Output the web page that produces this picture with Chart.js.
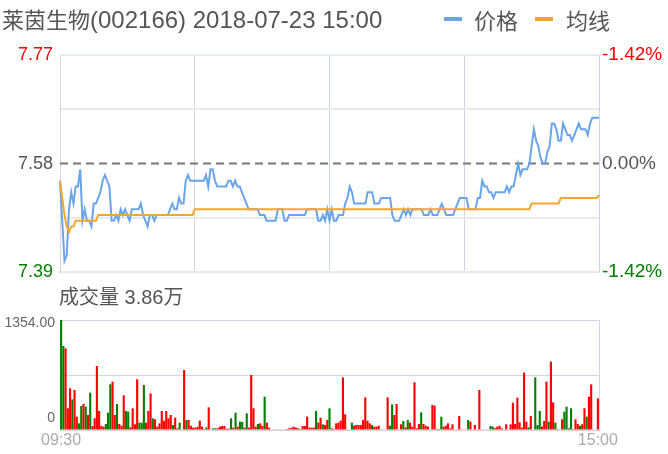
<!DOCTYPE html>
<html>
<head>
<meta charset="utf-8">
<script src="https://cdn.jsdelivr.net/npm/chart.js@4/dist/chart.umd.min.js"></script>
<style>
  body { margin: 0; background: #fff; }
  #wrap { position: relative; width: 668px; height: 454px; overflow: hidden;
          font-family: "Liberation Sans", Arial, "Noto Sans CJK SC", sans-serif; color: #555; }
  canvas { position: absolute; left: 0; }
  .t { position: absolute; white-space: nowrap; }
  .cjk { font-family: "Noto Sans CJK SC", sans-serif; }
  .sw { position: absolute; height: 4px; width: 18px; }
</style>
</head>
<body>
<div id="wrap">
  <canvas id="price" width="668" height="290" style="top:0"></canvas>
  <canvas id="vol" width="668" height="164" style="top:290px"></canvas>

  <div class="t" style="left:2px;top:3px;font-size:24px;line-height:30px;"><span class="cjk" style="font-size:22px;line-height:30px;">莱茵生物</span>(002166) 2018-07-23 15:00</div>
  <div class="sw" style="left:444px;top:17px;background:#6aa5ea;"></div>
  <div class="t cjk" style="left:474px;top:8px;font-size:22px;line-height:22px;">价格</div>
  <div class="sw" style="left:535px;top:17px;background:#f5a631;"></div>
  <div class="t cjk" style="left:566px;top:8px;font-size:22px;line-height:22px;">均线</div>
  <div class="t" style="left:59px;top:285px;font-size:20px;line-height:24px;">成交量 3.86万</div>
</div>

<script>
// previous close and axis ticks
const prevClose = 7.58;
const priceTicks = [7.39, 7.485, 7.58, 7.675, 7.77];
const leftLabels = ['7.39', '', '7.58', '', '7.77'];
const rightLabels = ['-1.42%', '', '0.00%', '', '-1.42%'];
const volMax = 1354;

// minute price (09:30 - 15:00)
const price = [
  7.55, 7.48, 7.41, 7.42, 7.50, 7.53, 7.51, 7.54, 7.54, 7.57,
  7.48, 7.50, 7.48, 7.48, 7.47, 7.51, 7.51, 7.52, 7.53, 7.55,
  7.56, 7.55, 7.54, 7.48, 7.48, 7.49, 7.48, 7.50, 7.49, 7.50,
  7.49, 7.48, 7.50, 7.50, 7.50, 7.50, 7.51, 7.49, 7.48, 7.47,
  7.49, 7.49, 7.48, 7.49, 7.49, 7.49, 7.49, 7.49, 7.49, 7.50,
  7.51, 7.50, 7.50, 7.52, 7.51, 7.51, 7.55, 7.56, 7.55, 7.55,
  7.55, 7.55, 7.55, 7.55, 7.55, 7.56, 7.54, 7.57, 7.57, 7.55,
  7.54, 7.54, 7.54, 7.54, 7.54, 7.55, 7.55, 7.54, 7.55, 7.54,
  7.54, 7.53, 7.52, 7.51, 7.50, 7.50, 7.50, 7.50, 7.50, 7.49,
  7.49, 7.49, 7.48, 7.48, 7.48, 7.48, 7.48, 7.50, 7.50, 7.50,
  7.48, 7.48, 7.49, 7.49, 7.49, 7.49, 7.49, 7.49, 7.49, 7.49,
  7.50, 7.50, 7.50, 7.50, 7.50, 7.48, 7.48, 7.49, 7.48, 7.50,
  7.48, 7.50, 7.48, 7.48, 7.49, 7.49, 7.49, 7.51, 7.52, 7.54,
  7.53, 7.51, 7.51, 7.51, 7.51, 7.51, 7.51, 7.53, 7.53, 7.53,
  7.51, 7.51, 7.51, 7.52, 7.52, 7.52, 7.52, 7.52, 7.49, 7.48,
  7.48, 7.48, 7.49, 7.50, 7.49, 7.50, 7.49, 7.50, 7.50, 7.50,
  7.50, 7.50, 7.49, 7.49, 7.49, 7.50, 7.49, 7.49, 7.49, 7.50,
  7.51, 7.50, 7.49, 7.49, 7.49, 7.49, 7.50, 7.51, 7.52, 7.52,
  7.52, 7.52, 7.50, 7.50, 7.50, 7.50, 7.52, 7.52, 7.55, 7.54,
  7.54, 7.53, 7.53, 7.52, 7.53, 7.53, 7.53, 7.53, 7.53, 7.54,
  7.53, 7.54, 7.54, 7.56, 7.58, 7.56, 7.57, 7.57, 7.57, 7.58,
  7.61, 7.64, 7.62, 7.61, 7.59, 7.58, 7.58, 7.60, 7.61, 7.65,
  7.65, 7.64, 7.62, 7.62, 7.65, 7.64, 7.63, 7.63, 7.62, 7.63,
  7.64, 7.65, 7.64, 7.64, 7.64, 7.63, 7.65, 7.66, 7.66, 7.66,
  7.66
];

// average price line
const avgPrice = [
  7.55, 7.52, 7.49, 7.47, 7.46, 7.47, 7.47, 7.48, 7.48, 7.48,
  7.48, 7.48, 7.48, 7.48, 7.48, 7.48, 7.48, 7.49, 7.49, 7.49,
  7.49, 7.49, 7.49, 7.49, 7.49, 7.49, 7.49, 7.49, 7.49, 7.49,
  7.49, 7.49, 7.49, 7.49, 7.49, 7.49, 7.49, 7.49, 7.49, 7.49,
  7.49, 7.49, 7.49, 7.49, 7.49, 7.49, 7.49, 7.49, 7.49, 7.49,
  7.49, 7.49, 7.49, 7.49, 7.49, 7.49, 7.49, 7.49, 7.49, 7.49,
  7.50, 7.50, 7.50, 7.50, 7.50, 7.50, 7.50, 7.50, 7.50, 7.50,
  7.50, 7.50, 7.50, 7.50, 7.50, 7.50, 7.50, 7.50, 7.50, 7.50,
  7.50, 7.50, 7.50, 7.50, 7.50, 7.50, 7.50, 7.50, 7.50, 7.50,
  7.50, 7.50, 7.50, 7.50, 7.50, 7.50, 7.50, 7.50, 7.50, 7.50,
  7.50, 7.50, 7.50, 7.50, 7.50, 7.50, 7.50, 7.50, 7.50, 7.50,
  7.50, 7.50, 7.50, 7.50, 7.50, 7.50, 7.50, 7.50, 7.50, 7.50,
  7.50, 7.50, 7.50, 7.50, 7.50, 7.50, 7.50, 7.50, 7.50, 7.50,
  7.50, 7.50, 7.50, 7.50, 7.50, 7.50, 7.50, 7.50, 7.50, 7.50,
  7.50, 7.50, 7.50, 7.50, 7.50, 7.50, 7.50, 7.50, 7.50, 7.50,
  7.50, 7.50, 7.50, 7.50, 7.50, 7.50, 7.50, 7.50, 7.50, 7.50,
  7.50, 7.50, 7.50, 7.50, 7.50, 7.50, 7.50, 7.50, 7.50, 7.50,
  7.50, 7.50, 7.50, 7.50, 7.50, 7.50, 7.50, 7.50, 7.50, 7.50,
  7.50, 7.50, 7.50, 7.50, 7.50, 7.50, 7.50, 7.50, 7.50, 7.50,
  7.50, 7.50, 7.50, 7.50, 7.50, 7.50, 7.50, 7.50, 7.50, 7.50,
  7.50, 7.50, 7.50, 7.50, 7.50, 7.50, 7.50, 7.50, 7.50, 7.50,
  7.51, 7.51, 7.51, 7.51, 7.51, 7.51, 7.51, 7.51, 7.51, 7.51,
  7.51, 7.51, 7.51, 7.52, 7.52, 7.52, 7.52, 7.52, 7.52, 7.52,
  7.52, 7.52, 7.52, 7.52, 7.52, 7.52, 7.52, 7.52, 7.52, 7.52,
  7.525
];

// minute volume (手)
const volume = [
  1354, 1034, 1005, 267, 513, 377, 492, 164, 82, 295,
  320, 287, 185, 460, 50, 144, 788, 234, 50, 41,
  74, 213, 562, 595, 185, 320, 74, 53, 427, 234,
  226, 33, 267, 70, 624, 90, 90, 554, 90, 234,
  451, 144, 131, 41, 82, 234, 115, 234, 144, 185,
  62, 152, 21, 90, 8, 739, 123, 123, 53, 29,
  29, 41, 115, 41, 12, 33, 279, 4, 21, 21,
  21, 41, 50, 50, 16, 16, 144, 29, 213, 41,
  103, 99, 29, 205, 29, 677, 267, 41, 74, 82,
  50, 410, 90, 29, 8, 4, 4, 4, 8, 8,
  4, 12, 21, 29, 41, 29, 21, 12, 50, 50,
  164, 29, 29, 29, 234, 90, 152, 70, 62, 123,
  267, 20, 12, 82, 90, 115, 648, 193, 8, 8,
  90, 53, 62, 62, 62, 123, 402, 115, 82, 62,
  41, 41, 53, 4, 8, 4, 402, 53, 316, 185,
  320, 4, 70, 111, 33, 123, 90, 41, 587, 21,
  74, 217, 74, 53, 41, 8, 308, 300, 12, 12,
  164, 41, 53, 82, 21, 70, 8, 8, 172, 8,
  8, 4, 123, 103, 8, 62, 8, 492, 8, 4,
  4, 4, 50, 41, 21, 41, 53, 21, 8, 70,
  8, 70, 336, 74, 398, 95, 29, 706, 103, 33,
  172, 8, 648, 62, 234, 41, 111, 595, 103, 841,
  340, 90, 12, 8, 131, 226, 287, 21, 267, 12,
  131, 74, 53, 70, 267, 164, 410, 562, 8, 8,
  390
];

// 1 = up (red), -1 = down (green)
const volDir = [
  -1, -1, 1, 1, 1, -1, 1, 1, -1, -1,
  1, -1, 1, -1, 1, 1, 1, 1, 1, 1,
  -1, -1, -1, 1, 1, -1, 1, 1, 1, -1,
  -1, 1, 1, 1, 1, -1, -1, -1, 1, 1,
  1, -1, 1, 1, 1, 1, 1, 1, 1, 1,
  -1, 1, 1, -1, 1, 1, -1, 1, 1, 1,
  1, 1, 1, 1, 1, -1, 1, 1, -1, -1,
  1, 1, 1, 1, 1, 1, -1, 1, -1, 1,
  -1, -1, 1, -1, 1, 1, 1, 1, -1, 1,
  1, -1, 1, 1, 1, 1, 1, 1, 1, 1,
  1, 1, 1, 1, 1, 1, 1, 1, 1, 1,
  1, 1, 1, 1, -1, 1, 1, -1, 1, 1,
  -1, 1, 1, 1, 1, 1, 1, 1, 1, 1,
  -1, 1, 1, 1, 1, 1, 1, 1, 1, -1,
  1, 1, 1, 1, 1, 1, 1, -1, -1, 1,
  1, 1, 1, -1, 1, -1, 1, 1, 1, 1,
  1, -1, 1, 1, 1, 1, 1, 1, -1, 1,
  -1, 1, 1, 1, 1, 1, 1, 1, 1, 1,
  1, 1, -1, 1, 1, 1, 1, 1, 1, 1,
  1, 1, -1, -1, 1, 1, 1, 1, 1, 1,
  1, 1, 1, 1, 1, 1, 1, 1, 1, -1,
  1, 1, -1, -1, -1, 1, 1, 1, -1, 1,
  1, -1, 1, 1, 1, -1, -1, 1, -1, 1,
  1, 1, -1, 1, 1, -1, 1, 1, 1, 1,
  1
];

// trading minutes: 09:30-11:30, 13:01-15:00
function hm(t) {
  return String(Math.floor(t / 60)).padStart(2, '0') + ':' + String(t % 60).padStart(2, '0');
}
const times = [];
for (let t = 570; t <= 690; t++) times.push(hm(t));
for (let t = 781; t <= 900; t++) times.push(hm(t));

Chart.defaults.font.family = '"Liberation Sans", Arial, sans-serif';

const GRID = '#e6e9ee';
const VGRID = '#cfd6e1';

// dashed line at previous close
const refLine = {
  id: 'refLine',
  beforeDatasetsDraw(chart) {
    const { ctx, chartArea } = chart;
    const y = chart.scales.y.getPixelForValue(prevClose);
    ctx.save();
    ctx.setLineDash([8, 5]);
    ctx.strokeStyle = '#777';
    ctx.lineWidth = 2;
    ctx.beginPath();
    ctx.moveTo(chartArea.left, y);
    ctx.lineTo(chartArea.right, y);
    ctx.stroke();
    ctx.restore();
  }
};

new Chart(document.getElementById('price'), {
  type: 'line',
  data: {
    labels: times,
    datasets: [
      { label: '均线', data: avgPrice, borderColor: '#f5a631', borderWidth: 2, pointRadius: 0, tension: 0 },
      { label: '价格', data: price, borderColor: '#6aa5ea', borderWidth: 2, pointRadius: 0, tension: 0 }
    ]
  },
  options: {
    responsive: false,
    animation: false,
    events: [],
    layout: { padding: { top: 55, bottom: 16, left: 0, right: 0 } },
    plugins: { legend: { display: false }, tooltip: { enabled: false } },
    scales: {
      x: {
        afterFit: s => { s.height = 0; },
        ticks: { display: false, autoSkip: false },
        grid: { drawTicks: false, color: c => (c.index % 60 === 0 ? VGRID : 'rgba(0,0,0,0)') },
        border: { color: GRID, width: 2 }
      },
      y: {
        min: priceTicks[0],
        max: priceTicks[priceTicks.length - 1],
        afterBuildTicks: s => { s.ticks = priceTicks.map(v => ({ value: v })); },
        afterFit: s => { s.width = 60; },
        ticks: {
          padding: 7,
          font: { size: 18 },
          color: c => ['#008000', '#555', '#555', '#555', '#ff0000'][c.index],
          callback: (v, i) => leftLabels[i]
        },
        grid: { drawTicks: false, lineWidth: 2, color: c => (c.index === 2 ? 'rgba(0,0,0,0)' : GRID) },
        border: { color: VGRID }
      },
      y1: {
        position: 'right',
        min: priceTicks[0],
        max: priceTicks[priceTicks.length - 1],
        afterBuildTicks: s => { s.ticks = priceTicks.map(v => ({ value: v })); },
        afterFit: s => { s.width = 69; },
        ticks: {
          padding: 3,
          font: { size: 19 },
          color: c => ['#008000', '#555', '#555', '#555', '#ff0000'][c.index],
          callback: (v, i) => rightLabels[i]
        },
        grid: { display: false, drawTicks: false },
        border: { color: VGRID }
      }
    }
  },
  plugins: [refLine]
});

// volume axis labels
const volLabels = {
  id: 'volLabels',
  afterDraw(chart) {
    const { ctx } = chart;
    const y = chart.scales.y;
    ctx.save();
    ctx.font = '14px "Liberation Sans", Arial, sans-serif';
    ctx.fillStyle = '#666';
    ctx.textAlign = 'right';
    ctx.textBaseline = 'middle';
    ctx.fillText(volMax.toFixed(2), y.right - 5, y.getPixelForValue(volMax) + 3);
    ctx.fillText('0', y.right - 5, y.getPixelForValue(0) - 12);
    ctx.restore();
  }
};

new Chart(document.getElementById('vol'), {
  type: 'bar',
  data: {
    labels: times,
    datasets: [{
      label: '成交量',
      data: volume,
      backgroundColor: volDir.map(d => (d > 0 ? '#ff0000' : '#008000')),
      barPercentage: 0.95,
      categoryPercentage: 1
    }]
  },
  options: {
    responsive: false,
    animation: false,
    events: [],
    layout: { padding: { top: 30, left: 0, right: 0, bottom: 0 } },
    plugins: { legend: { display: false }, tooltip: { enabled: false } },
    scales: {
      x: {
        afterFit: s => { s.height = 24; },
        grid: { display: false, drawTicks: false },
        border: { color: VGRID },
        ticks: {
          autoSkip: false,
          maxRotation: 0,
          padding: 1,
          font: { size: 16 },
          color: '#aaa',
          callback: (v, i) => (i === 0 || i === times.length - 1 ? times[i] : '')
        }
      },
      y: {
        min: 0,
        max: volMax,
        afterBuildTicks: s => { s.ticks = [0, volMax / 2, volMax].map(v => ({ value: v })); },
        afterFit: s => { s.width = 60; },
        ticks: { display: false },
        grid: { drawTicks: false, color: VGRID },
        border: { color: VGRID }
      },
      y1: {
        position: 'right',
        min: 0,
        max: volMax,
        afterFit: s => { s.width = 69; },
        ticks: { display: false },
        grid: { display: false, drawTicks: false },
        border: { color: VGRID }
      }
    }
  },
  plugins: [volLabels]
});
</script>
</body>
</html>
